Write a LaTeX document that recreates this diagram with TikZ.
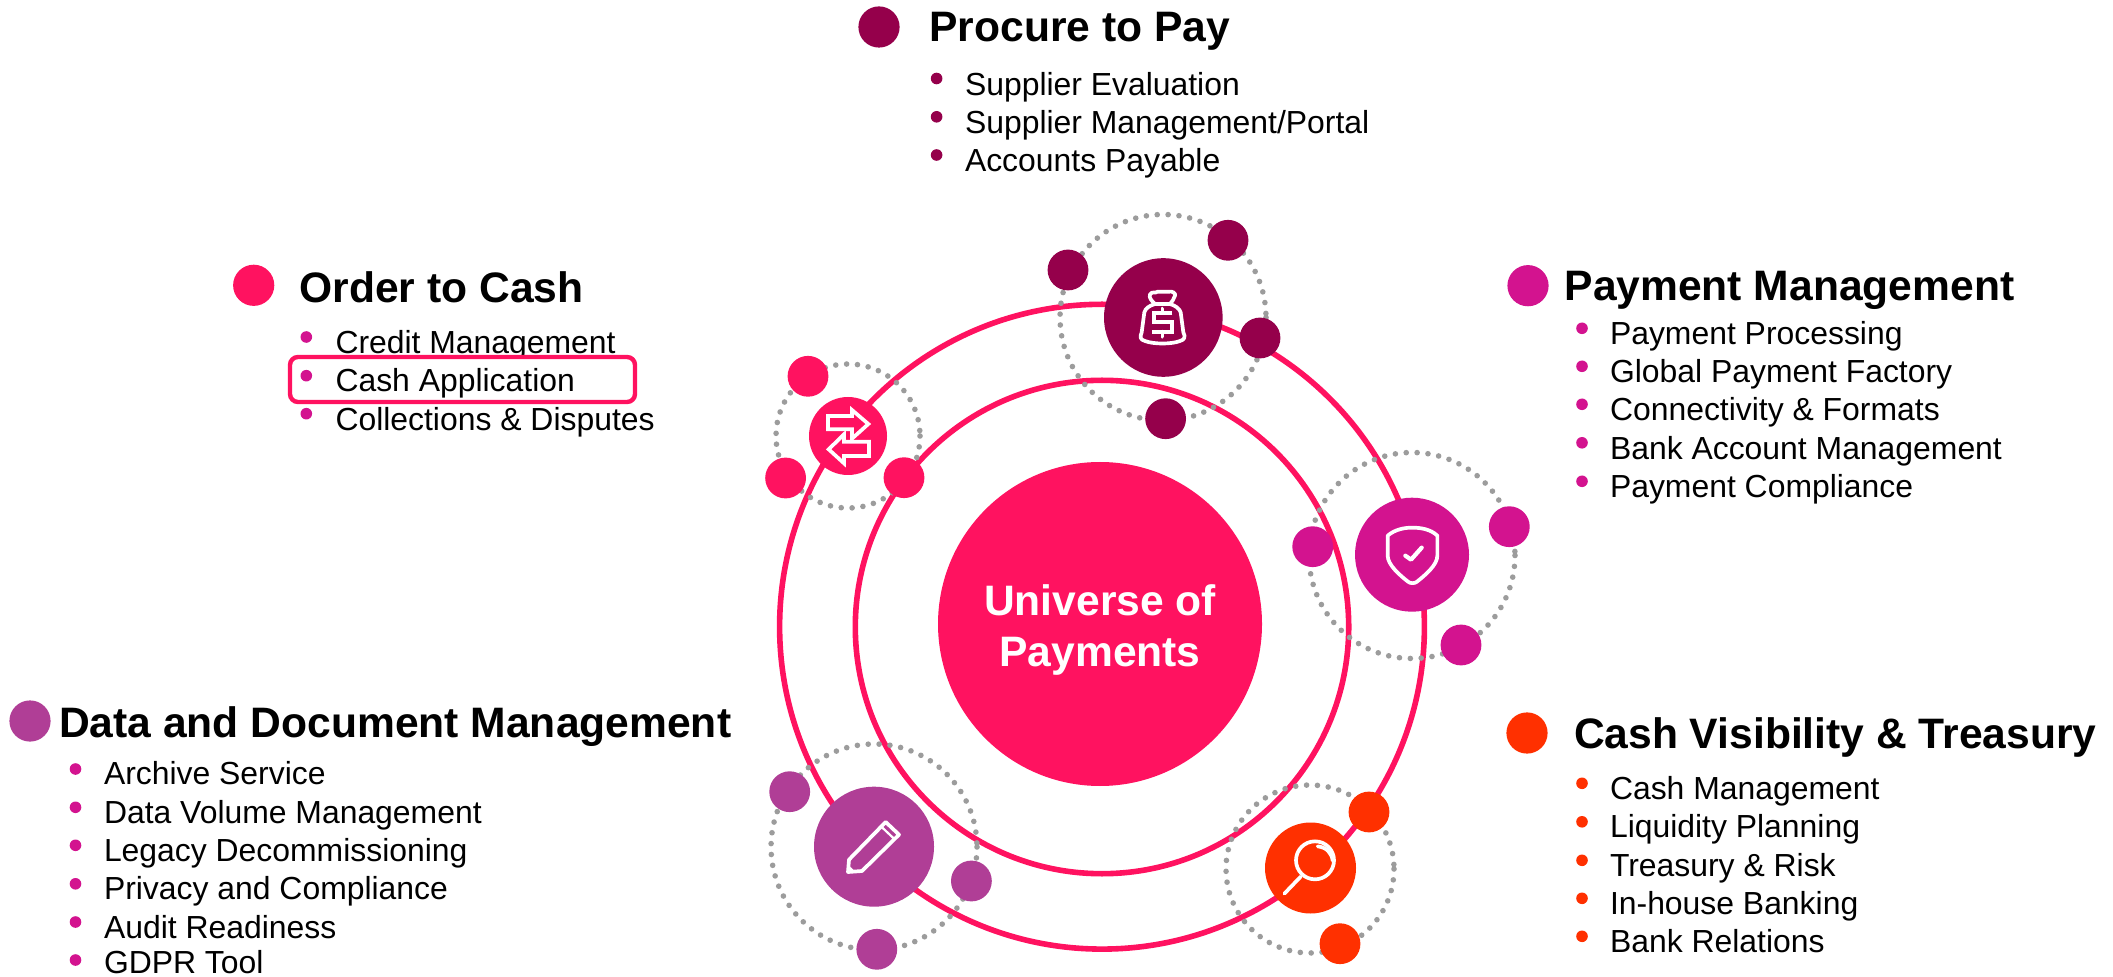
\documentclass[tikz,border=0pt]{standalone}
\usepackage{fontspec}
\setmainfont{Liberation Sans}
\definecolor{cpink}{HTML}{FF1260}
\definecolor{cplum}{HTML}{95004B}
\definecolor{cmag}{HTML}{D3138F}
\definecolor{cpur}{HTML}{B03E96}
\definecolor{cora}{HTML}{FF3000}
\definecolor{cgray}{HTML}{9C9C9C}
\tikzset{
  ring/.style={draw=cpink,line width=2.8pt},
  dotring/.style={draw=cgray,line width=2.8pt,line cap=round,dash pattern=on 0pt off 5.45pt},
  disc/.style={circle,inner sep=0pt,outer sep=0pt,draw=none,minimum size=#1*1pt},
  sat/.style={disc=20.4},
  bul/.style={disc=5.8},
  key/.style={disc=20.6},
  head/.style={anchor=base west,inner sep=0pt,outer sep=0pt,font=\fontsize{21.3}{26}\selectfont\bfseries},
  item/.style={anchor=base west,inner sep=0pt,outer sep=0pt,font=\fontsize{15.95}{19}\selectfont},
  icon/.style={draw=white,line width=1.85pt,line join=round,line cap=round},
}
\begin{document}
\begin{tikzpicture}[x=0.5pt,y=-0.5pt]
\useasboundingbox (0,0) rectangle (2113,977);
\fill[white] (0,0) rectangle (2113,977);
% rings
\draw[ring] (1102,626.7) circle[radius=322.4];
\draw[ring] (1102,627) circle[radius=246.7];
% dotted orbits
\draw[dotring] (1163,317.5) circle[radius=103];
\draw[dotring] (848,436) circle[radius=72];
\draw[dotring] (1412,555.5) circle[radius=103];
\draw[dotring] (874,847) circle[radius=103];
\draw[dotring] (1310,869) circle[radius=84];
% centre
\node[disc=162,fill=cpink] (core) at (1100,624) {};
\node[text=white,align=center,inner sep=0pt,font=\fontsize{21.3}{25.85}\selectfont\bfseries] (corelabel) at (1100,630) {Universe of\\Payments};
% procure to pay cluster
\node[disc=59.3,fill=cplum] (pp) at (1163.3,317.5) {};
\node[sat,fill=cplum] (pp1) at (1068,270) {};
\node[sat,fill=cplum] (pp2) at (1228,240.3) {};
\node[sat,fill=cplum] (pp3) at (1260,338) {};
\node[sat,fill=cplum] (pp4) at (1165.6,418.7) {};
% order to cash cluster
\node[disc=39,fill=cpink] (oc) at (848,436) {};
\node[sat,fill=cpink] (oc1) at (808,376.3) {};
\node[sat,fill=cpink] (oc2) at (785.6,478) {};
\node[sat,fill=cpink] (oc3) at (904,477.7) {};
% payment management cluster
\node[disc=57,fill=cmag] (pm) at (1412,554.7) {};
\node[sat,fill=cmag] (pm1) at (1312.7,546.7) {};
\node[sat,fill=cmag] (pm2) at (1509.3,526.7) {};
\node[sat,fill=cmag] (pm3) at (1461,645) {};
% data cluster
\node[disc=60,fill=cpur] (dd) at (874,846.7) {};
\node[sat,fill=cpur] (dd1) at (789.7,791.7) {};
\node[sat,fill=cpur] (dd2) at (971.4,881) {};
\node[sat,fill=cpur] (dd3) at (876.8,949.3) {};
% cash visibility cluster
\node[disc=45.5,fill=cora] (cv) at (1310.5,868) {};
\node[sat,fill=cora] (cv1) at (1369,812) {};
\node[sat,fill=cora] (cv2) at (1340,943.7) {};
% money bag
\begin{scope}[shift={(1120,275)},scale=1/3]
\draw[icon] (105,87) .. controls (95,78) and (86,68) .. (90,58) .. controls (96,48) and (106,56) .. (113,50) .. controls (120,46) and (122,54) .. (128,50) .. controls (136,46) and (140,54) .. (147,50) .. controls (156,48) and (168,54) .. (165,62) .. controls (162,72) and (156,80) .. (150,87) -- cycle;
\draw[icon] (105,87) .. controls (88,92) and (76,100) .. (73,112) -- (65,172) .. controls (58,188) and (62,194) .. (75,198) .. controls (100,208) and (155,208) .. (180,198) .. controls (194,194) and (197,186) .. (190,172) -- (182,112) .. controls (178,100) and (166,92) .. (150,87);
\draw[icon,line cap=butt,line join=miter] (157,113) -- (101,113) -- (101,141) -- (155,141) -- (155,170) -- (97,170);
\draw[icon] (127,101) -- (127,113) (127,170) -- (127,185);
\end{scope}
% exchange arrows
\begin{scope}[shift={(808,396)},scale=1/3]
\draw[icon,line cap=butt,line join=miter] (60,60) -- (132,60) -- (132,42) -- (181,84) -- (132,128) -- (132,100) -- (60,100) -- cycle;
\draw[icon,line cap=butt,line join=miter] (183,137) -- (108,137) -- (108,115) -- (62,160) -- (108,202) -- (108,180) -- (183,180) -- cycle;
\end{scope}
% pencil
\begin{scope}[shift={(834,807)},scale=1/3]
\draw[icon] (45,158) -- (155,45) -- (195,83) -- (84,192) -- (42,195) -- cycle;
\draw[icon,line width=1.1pt] (143,60) -- (181,96);
\fill[white] (40,197) -- (41,172) -- (62,192) -- cycle;
\end{scope}
% magnifier
\begin{scope}[shift={(1270,828)},scale=1/3]
\draw[icon] (135,97) circle[radius=57];
\draw[icon] (92,146) -- (43,197);
\draw[icon] (143,55) .. controls (170,58) and (185,75) .. (188,98);
\end{scope}
% shield
\begin{scope}[shift={(1372,515)},scale=1/3]
\draw[icon] (47,62) .. controls (70,42) and (100,38) .. (120,38) .. controls (145,38) and (175,42) .. (196,62) -- (196,122) .. controls (196,150) and (160,180) .. (135,200) .. controls (128,206) and (115,206) .. (108,200) .. controls (85,182) and (47,150) .. (47,122) -- cycle;
\draw[icon,line width=2.1pt] (100,122) -- (117,134) -- (149,98);
\end{scope}
% procure to pay legend
\node[key,fill=cplum] (kpp) at (879,27) {};
\node[head] (tpp) at (929.5,42) {Procure to Pay};
\node[bul,fill=cplum] (bpp1) at (936.6,78.5) {};
\node[bul,fill=cplum] (bpp2) at (936.6,116.8) {};
\node[bul,fill=cplum] (bpp3) at (936.6,155) {};
\node[item] (ipp1) at (965,95.7) {Supplier Evaluation};
\node[item] (ipp2) at (965,133.5) {Supplier Management/Portal};
\node[item] (ipp3) at (965,171.5) {Accounts Payable};
% order to cash legend
\node[key,fill=cpink] (koc) at (253.7,285.3) {};
\node[head] (toc) at (299.5,302.3) {Order to Cash};
\node[bul,fill=cmag] (boc1) at (306.3,337) {};
\node[item] (ioc1) at (335.5,353.7) {Credit Management};
\draw[draw=cpink,fill=white,line width=2.2pt,rounded corners=4pt] (290,357) rectangle (635,402);
\node[bul,fill=cmag] (boc2) at (306.3,375.7) {};
\node[bul,fill=cmag] (boc3) at (306.3,413.7) {};
\node[item] (ioc2) at (335.5,392) {Cash Application};
\node[item] (ioc3) at (335.5,430.3) {Collections \& Disputes};
% payment management legend
\node[key,fill=cmag] (kpm) at (1528,285.7) {};
\node[head] (tpm) at (1564.6,301) {Payment Management};
\node[bul,fill=cmag] (bpm1) at (1582,328.3) {};
\node[bul,fill=cmag] (bpm2) at (1582,366.3) {};
\node[bul,fill=cmag] (bpm3) at (1582,404.3) {};
\node[bul,fill=cmag] (bpm4) at (1582,442.8) {};
\node[bul,fill=cmag] (bpm5) at (1582,481.3) {};
\node[item] (ipm1) at (1610,345) {Payment Processing};
\node[item] (ipm2) at (1610,382.5) {Global Payment Factory};
\node[item] (ipm3) at (1610,420.7) {Connectivity \& Formats};
\node[item] (ipm4) at (1610,459.3) {Bank Account Management};
\node[item] (ipm5) at (1610,497.7) {Payment Compliance};
% cash visibility legend
\node[key,fill=cora] (kcv) at (1527,733) {};
\node[head] (tcv) at (1574,748) {Cash Visibility \& Treasury};
\node[bul,fill=cora] (bcv1) at (1582,783.3) {};
\node[bul,fill=cora] (bcv2) at (1582,821.8) {};
\node[bul,fill=cora] (bcv3) at (1582,860.3) {};
\node[bul,fill=cora] (bcv4) at (1582,898.3) {};
\node[bul,fill=cora] (bcv5) at (1582,936.3) {};
\node[item] (icv1) at (1610,799) {Cash Management};
\node[item] (icv2) at (1610,837.5) {Liquidity Planning};
\node[item] (icv3) at (1610,876) {Treasury \& Risk};
\node[item] (icv4) at (1610,914) {In-house Banking};
\node[item] (icv5) at (1610,952) {Bank Relations};
% data legend
\node[key,fill=cpur] (kdd) at (30,721) {};
\node[head] (tdd) at (59,737) {Data and Document Management};
\node[bul,fill=cmag] (bdd1) at (75.5,769) {};
\node[bul,fill=cmag] (bdd2) at (75.5,807.3) {};
\node[bul,fill=cmag] (bdd3) at (75.5,845.3) {};
\node[bul,fill=cmag] (bdd4) at (75.5,883.8) {};
\node[bul,fill=cmag] (bdd5) at (75.5,922) {};
\node[bul,fill=cmag] (bdd6) at (75.5,960) {};
\node[item] (idd1) at (104,784.5) {Archive Service};
\node[item] (idd2) at (104,823) {Data Volume Management};
\node[item] (idd3) at (104,861) {Legacy Decommissioning};
\node[item] (idd4) at (104,899.5) {Privacy and Compliance};
\node[item] (idd5) at (104,938) {Audit Readiness};
\node[item] (idd6) at (104,973) {GDPR Tool};
\end{tikzpicture}
\end{document}
